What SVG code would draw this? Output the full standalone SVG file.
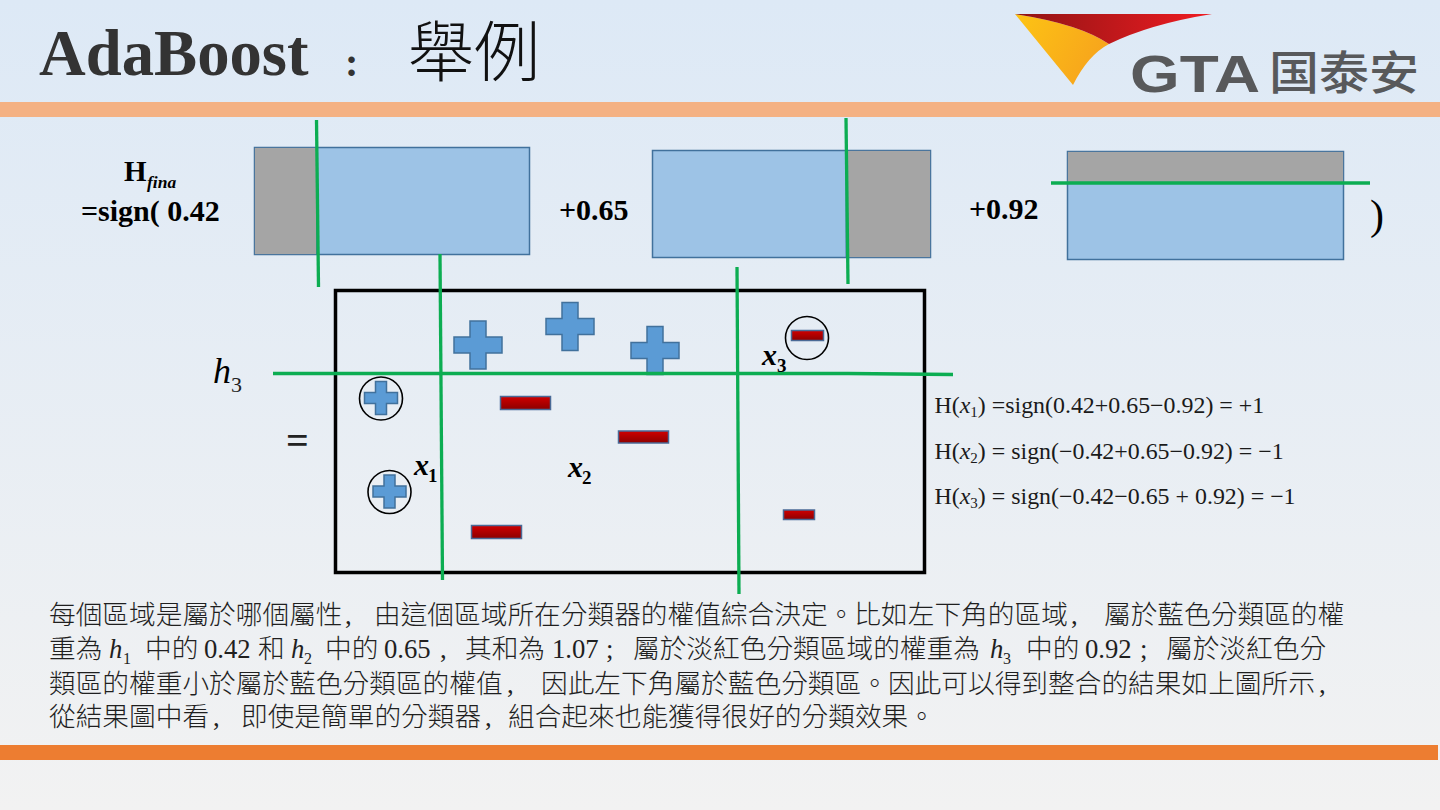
<svg xmlns="http://www.w3.org/2000/svg" width="1440" height="810" viewBox="0 0 1440 810">
<style>
text{font-family:"Liberation Serif","Noto Sans CJK TC",serif;fill:#000}
.cn{font-size:26.7px;fill:#1f1f1f;font-weight:300}
.b{font-weight:700}
.i{font-style:italic}
.eq{font-size:23.9px;fill:#1a1a1a}
.lab{font-size:30px;font-weight:700;font-style:italic}
.g{stroke:#0cad52;stroke-width:3.300;fill:none}
.blue{fill:#9dc3e6;stroke:#41719c;stroke-width:1.500}
.gray{fill:#a5a5a5;stroke:#41719c;stroke-width:.8}
.plus{fill:#5b9bd5;stroke:#41719c;stroke-width:1.500}
.minus{fill:url(#red);stroke:#4a6a96;stroke-width:1.500}
.ring{fill:none;stroke:#000;stroke-width:1.600}
</style>
<defs>
<linearGradient id="bg" x1="0" y1="0" x2="0" y2="1"><stop offset="0" stop-color="#dde9f6"/><stop offset="1" stop-color="#f2f2f2"/></linearGradient>
<linearGradient id="red" x1="0" y1="0" x2="0" y2="1"><stop offset="0" stop-color="#d00000"/><stop offset="1" stop-color="#8c0000"/></linearGradient>
<linearGradient id="yel" x1="0" y1="0" x2="1" y2="0.4"><stop offset="0" stop-color="#fdc414"/><stop offset="1" stop-color="#f7a51c"/></linearGradient>
<linearGradient id="rw" x1="0" y1="0" x2="1" y2="0"><stop offset="0" stop-color="#8f1414"/><stop offset="1" stop-color="#f01c22"/></linearGradient>
</defs>
<rect width="1440" height="810" fill="url(#bg)"/>
<rect y="102" width="1440" height="15" fill="#f4b183"/>
<rect y="745" width="1438" height="15" fill="#ed7d31"/>

<g id="title">
<text x="39" y="75" font-size="64.700" font-weight="700" style="fill:#333">AdaBoost</text>
<text x="345" y="76" font-size="40" font-weight="700" style="fill:#333">:</text>
<text x="408" y="76" font-size="66" style="font-weight:300;fill:#111">舉例</text>
</g>
<g id="logo">
<path d="M1015 14 Q1080 24 1109 44 Q1088 55 1073 85 Z" fill="url(#yel)"/>
<path d="M1015 14 L1212 14 Q1150 24 1109 44 Q1080 24 1015 14 Z" fill="url(#rw)"/>
<text x="1130" y="92" font-size="51" font-weight="700" textLength="130" lengthAdjust="spacingAndGlyphs" style="font-family:'Liberation Sans',sans-serif;fill:#58595b">GTA</text>
<text x="1269" y="89" font-size="46" font-weight="500" textLength="150" lengthAdjust="spacingAndGlyphs" style="font-family:'Noto Sans CJK SC',sans-serif;fill:#58595b">国泰安</text>
</g>

<g id="formula-head">
<text x="124" y="181" font-size="29" class="b">H</text>
<text x="147" y="188" font-size="17.500" class="b i">fina</text>
<text x="81" y="221" font-size="30" class="b">=sign( 0.42</text>
</g>
<g id="weak-1">
<rect x="254.500" y="147.500" width="275" height="107" class="blue"/>
<rect x="254.500" y="147.500" width="62" height="107" class="gray"/>
</g>
<g id="weight-2"><text x="559" y="220" font-size="30" class="b">+0.65</text></g>
<g id="weak-2">
<rect x="652.500" y="150.500" width="278" height="107" class="blue"/>
<rect x="846" y="150.500" width="84.500" height="107" class="gray"/>
</g>
<g id="weight-3"><text x="969" y="219" font-size="30" class="b">+0.92</text></g>
<g id="weak-3">
<rect x="1067.500" y="151.500" width="276" height="108" class="blue"/>
<rect x="1067.500" y="151.500" width="276" height="31" class="gray"/>
</g>
<g id="close-paren"><text x="1370" y="229" font-size="42">)</text></g>

<g id="h3-label">
<text x="213" y="383" font-size="36" class="i">h</text>
<text x="231" y="392" font-size="22" style="fill:#222">3</text>
<text x="286" y="454" font-size="40" class="b" style="fill:#222">=</text>
</g>

<g id="result-box"><rect x="335.500" y="290.500" width="589" height="282" fill="none" stroke="#000" stroke-width="3.500"/></g>

<g id="plus-1"><path class="plus" d="M470 321h16v16h16v16h-16v16h-16v-16h-16v-16h16z"/></g>
<g id="plus-2"><path class="plus" d="M562 302.500h16v16h16v16h-16v16h-16v-16h-16v-16h16z"/></g>
<g id="plus-3"><path class="plus" d="M647 326.500h16v16h16v16h-16v16h-16v-16h-16v-16h16z"/></g>
<g id="plus-x1"><circle class="ring" cx="381" cy="398.500" r="21.500"/><path class="plus" d="M376 381.500h11v11h11v11h-11v11h-11v-11h-11v-11h11z" transform="translate(-.5 0)"/></g>
<g id="plus-x2"><circle class="ring" cx="389.500" cy="492" r="21.500"/><path class="plus" d="M384 475h11v11h11v11h-11v11h-11v-11h-11v-11h11z"/></g>
<g id="minus-1"><rect class="minus" x="500.500" y="396.500" width="50" height="13"/></g>
<g id="minus-2"><rect class="minus" x="618.500" y="431" width="50" height="12"/></g>
<g id="minus-3"><rect class="minus" x="471.500" y="525.500" width="50" height="13"/></g>
<g id="minus-4"><rect class="minus" x="783.500" y="510" width="31" height="9.500"/></g>
<g id="minus-x3"><circle class="ring" cx="807" cy="338" r="21.500"/><rect class="minus" x="791.500" y="330.500" width="32" height="10"/></g>

<g id="connectors">
<path class="g" d="M316.500 120L318.500 287"/>
<path class="g" d="M846 118L848 284"/>
<path class="g" d="M1051 183H1370"/>
<path class="g" d="M440 254L442.500 580"/>
<path class="g" d="M737 267L739 594"/>
<path class="g" d="M273 373.500H848L953 374.500"/>
</g>

<g id="point-labels">
<text x="414" y="475" class="lab">x</text><text x="428" y="482" font-size="19" class="b">1</text>
<text x="568" y="477" class="lab">x</text><text x="582" y="484" font-size="19" class="b">2</text>
<text x="762" y="365" class="lab">x</text><text x="777" y="372" font-size="19" class="b">3</text>
</g>

<g id="equations">
<text x="934.500" y="413" class="eq">H(<tspan class="i">x</tspan><tspan font-size="15" dy="4">1</tspan><tspan dy="-4">) =sign(0.42+0.65−0.92) = +1</tspan></text>
<text x="934.500" y="459" class="eq">H(<tspan class="i">x</tspan><tspan font-size="15" dy="4">2</tspan><tspan dy="-4">) = sign(−0.42+0.65−0.92) = −1</tspan></text>
<text x="934.500" y="504" class="eq">H(<tspan class="i">x</tspan><tspan font-size="15" dy="4">3</tspan><tspan dy="-4">) = sign(−0.42−0.65 + 0.92) = −1</tspan></text>
</g>

<g id="caption">
<text class="cn" y="624"><tspan x="49">每個區域是屬於哪個屬性</tspan><tspan x="345">,</tspan><tspan x="374">由這個區域所在分類器的權值綜合決定。比如左下角的區域</tspan><tspan x="1071">,</tspan><tspan x="1104">屬於藍色分類區的權</tspan></text>
<text class="cn" y="658"><tspan x="49">重為</tspan><tspan x="109" class="i">h</tspan><tspan x="123" font-size="16" dy="6">1</tspan><tspan x="145" dy="-6">中的</tspan><tspan x="204">0.42</tspan><tspan x="258">和</tspan><tspan x="291" class="i">h</tspan><tspan x="304" font-size="16" dy="6">2</tspan><tspan x="325" dy="-6">中的</tspan><tspan x="384">0.65</tspan><tspan x="440">,</tspan><tspan x="465">其和為</tspan><tspan x="552">1.07</tspan><tspan x="606">;</tspan><tspan x="633">屬於淡紅色分類區域的權重為</tspan><tspan x="990" class="i">h</tspan><tspan x="1003" font-size="16" dy="6">3</tspan><tspan x="1026" dy="-6">中的</tspan><tspan x="1085">0.92</tspan><tspan x="1140">;</tspan><tspan x="1166">屬於淡紅色分</tspan></text>
<text class="cn" y="693"><tspan x="49">類區的權重小於屬於藍色分類區的權值</tspan><tspan x="507">,</tspan><tspan x="541">因此左下角屬於藍色分類區。因此可以得到整合的結果如上圖所示</tspan><tspan x="1319">,</tspan></text>
<text class="cn" y="726"><tspan x="49">從結果圖中看</tspan><tspan x="213">,</tspan><tspan x="241">即使是簡單的分類器</tspan><tspan x="485">,</tspan><tspan x="508">組合起來也能獲得很好的分類效果。</tspan></text>
</g>
</svg>
